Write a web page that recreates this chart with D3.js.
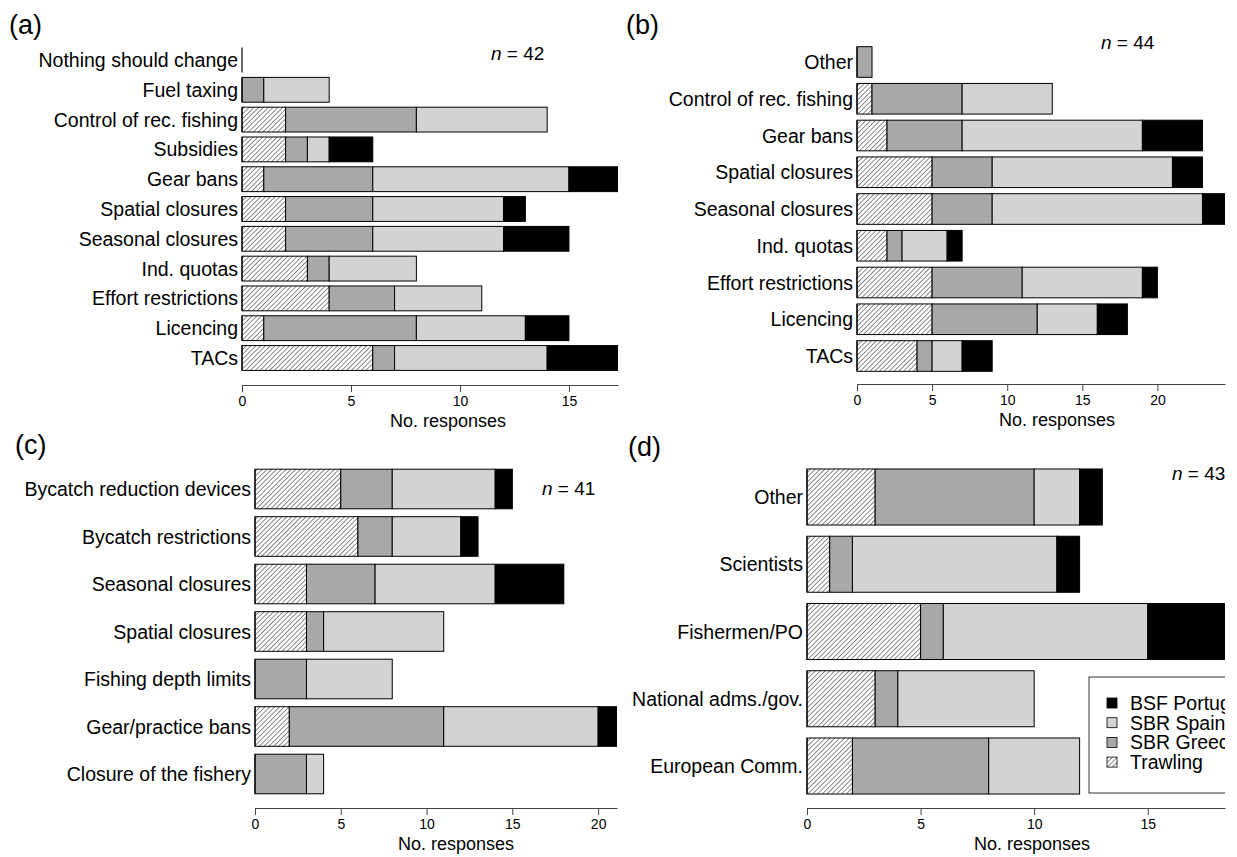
<!DOCTYPE html>
<html>
<head>
<meta charset="utf-8">
<script src="https://cdn.jsdelivr.net/npm/d3@7"></script>
<style>
  body { margin: 0; background: #fff; }
  svg { display: block; font-family: "Liberation Sans", Arial, sans-serif; }
</style>
</head>
<body>
<svg width="1237" height="857"></svg>
<script>
// series order in each bar: Trawling, SBR Greece, SBR Spain, BSF Portugal
var keys = ["Trawling", "SBR Greece", "SBR Spain", "BSF Portugal"];

// (a)
var aCats = ["Nothing should change", "Fuel taxing", "Control of rec. fishing", "Subsidies", "Gear bans",
  "Spatial closures", "Seasonal closures", "Ind. quotas", "Effort restrictions", "Licencing", "TACs"];
var aTrawl    = [0, 0, 2, 2, 1, 2, 2, 3, 4, 1, 6];
var aGreece   = [0, 1, 6, 1, 5, 4, 4, 1, 3, 7, 1];
var aSpain    = [0, 3, 6, 1, 9, 6, 6, 4, 4, 5, 7];
var aPortugal = [0, 0, 0, 2, 3, 1, 3, 0, 0, 2, 4];
var aTicks = [0, 5, 10, 15];

// (b)
var bCats = ["Other", "Control of rec. fishing", "Gear bans", "Spatial closures", "Seasonal closures",
  "Ind. quotas", "Effort restrictions", "Licencing", "TACs"];
var bTrawl    = [0, 1, 2, 5, 5, 2, 5, 5, 4];
var bGreece   = [1, 6, 5, 4, 4, 1, 6, 7, 1];
var bSpain    = [0, 6, 12, 12, 14, 3, 8, 4, 2];
var bPortugal = [0, 0, 4, 2, 2, 1, 1, 2, 2];
var bTicks = [0, 5, 10, 15, 20];

// (c)
var cCats = ["Bycatch reduction devices", "Bycatch restrictions", "Seasonal closures", "Spatial closures",
  "Fishing depth limits", "Gear/practice bans", "Closure of the fishery"];
var cTrawl    = [5, 6, 3, 3, 0, 2, 0];
var cGreece   = [3, 2, 4, 1, 3, 9, 3];
var cSpain    = [6, 4, 7, 7, 5, 9, 1];
var cPortugal = [1, 1, 4, 0, 0, 2, 0];
var cTicks = [0, 5, 10, 15, 20];

// (d)
var dCats = ["Other", "Scientists", "Fishermen/PO", "National adms./gov.", "European Comm."];
var dTrawl    = [3, 1, 5, 3, 2];
var dGreece   = [7, 1, 1, 1, 6];
var dSpain    = [2, 9, 9, 6, 4];
var dPortugal = [1, 1, 4, 0, 0];
var dTicks = [0, 5, 10, 15];

var nLabels = ["42", "44", "41", "43"];
var legendOrder = ["BSF Portugal", "SBR Spain", "SBR Greece", "Trawling"];

var svg = d3.select("svg");
var fills = {"Trawling": "url(#hatch)", "SBR Greece": "#a8a8a8", "SBR Spain": "#d3d3d3", "BSF Portugal": "#000"};

var defs = svg.append("defs");
defs.append("pattern")
    .attr("id", "hatch")
    .attr("patternUnits", "userSpaceOnUse")
    .attr("width", 3.4)
    .attr("height", 3.4)
    .attr("patternTransform", "rotate(45)")
  .call(function(p) {
    p.append("rect").attr("width", 3.4).attr("height", 3.4).attr("fill", "#fff");
    p.append("line").attr("x1", 0).attr("y1", 0).attr("x2", 0).attr("y2", 3.4)
      .attr("stroke", "#000").attr("stroke-width", 0.9);
  });

function drawPanel(id, cats, tr, gr, sp, pt, ticks, lay) {
  var rows = cats.map(function(c, i) {
    return {cat: c, "Trawling": tr[i], "SBR Greece": gr[i], "SBR Spain": sp[i], "BSF Portugal": pt[i]};
  });
  var step = (lay.yLast - lay.yFirst) / (cats.length - 1);
  var x = d3.scaleLinear().domain([0, lay.dmax]).range([lay.x0, lay.x1]);
  var y = d3.scaleBand().domain(cats)
    .range([lay.yFirst - step / 2, lay.yLast + step / 2])
    .paddingInner(1 / 6).paddingOuter(1 / 12);

  defs.append("clipPath").attr("id", "clip" + id)
    .append("rect")
    .attr("x", lay.x0 - 2).attr("y", lay.yFirst - step)
    .attr("width", lay.x1 - lay.x0 + 2).attr("height", lay.yLast - lay.yFirst + 2 * step);

  var g = svg.append("g");
  var bars = g.append("g").attr("clip-path", "url(#clip" + id + ")");

  var series = d3.stack().keys(keys)(rows);
  bars.selectAll("g.layer")
    .data(series)
    .enter().append("g")
    .attr("class", "layer")
    .attr("fill", function(s) { return fills[s.key]; })
    .selectAll("rect")
    .data(function(s) { return s.filter(function(d) { return d[1] > d[0]; }); })
    .enter().append("rect")
    .attr("x", function(d) { return x(d[0]); })
    .attr("y", function(d) { return y(d.data.cat); })
    .attr("width", function(d) { return x(d[1]) - x(d[0]); })
    .attr("height", y.bandwidth())
    .attr("stroke", "#000")
    .attr("stroke-width", 1);

  // zero-width bars still show their left edge
  bars.selectAll("line.zero")
    .data(rows)
    .enter().append("line")
    .attr("x1", x(0)).attr("x2", x(0))
    .attr("y1", function(d) { return y(d.cat); })
    .attr("y2", function(d) { return y(d.cat) + y.bandwidth(); })
    .attr("stroke", "#000").attr("stroke-width", 1.2);

  g.selectAll("text.cat")
    .data(cats)
    .enter().append("text")
    .attr("x", lay.x0 - 4)
    .attr("y", function(d) { return y(d) + y.bandwidth() / 2; })
    .attr("text-anchor", "end")
    .attr("dominant-baseline", "central")
    .attr("font-size", 19.5)
    .text(function(d) { return d; });

  var axis = g.append("g")
    .attr("transform", "translate(0," + lay.axisY + ")")
    .call(d3.axisBottom(x).tickValues(ticks).tickSize(7).tickSizeOuter(0).tickPadding(4));
  axis.select(".domain").attr("stroke", "#444");
  axis.selectAll(".tick line").attr("stroke", "#444");
  axis.selectAll(".tick text").attr("font-size", 14).attr("fill", "#000")
    .attr("font-family", "Liberation Sans, Arial, sans-serif");

  g.append("text")
    .attr("x", lay.xlabX)
    .attr("y", lay.axisY + 36)
    .attr("text-anchor", "middle")
    .attr("dominant-baseline", "central")
    .attr("font-size", 18)
    .text("No. responses");

  g.append("text")
    .attr("x", lay.letterX)
    .attr("y", lay.letterY)
    .attr("dominant-baseline", "central")
    .attr("font-size", 27)
    .text("(" + id + ")");

  var nt = g.append("text")
    .attr("x", lay.nX)
    .attr("y", lay.nY)
    .attr("dominant-baseline", "central")
    .attr("font-size", 19);
  nt.append("tspan").attr("font-style", "italic").text("n");
  nt.append("tspan").text(" = " + lay.n);

  return {x: x, g: g};
}

drawPanel("a", aCats, aTrawl, aGreece, aSpain, aPortugal, aTicks,
  {x0: 242, x1: 618, dmax: 17.25, yFirst: 60, yLast: 358, axisY: 385, xlabX: 448,
   letterX: 9, letterY: 25, nX: 491, nY: 53, n: nLabels[0]});

drawPanel("b", bCats, bTrawl, bGreece, bSpain, bPortugal, bTicks,
  {x0: 857, x1: 1225, dmax: 24.5, yFirst: 62, yLast: 356, axisY: 384, xlabX: 1057,
   letterX: 626, letterY: 25, nX: 1101, nY: 42, n: nLabels[1]});

drawPanel("c", cCats, cTrawl, cGreece, cSpain, cPortugal, cTicks,
  {x0: 255, x1: 617, dmax: 21.1, yFirst: 489, yLast: 774, axisY: 808, xlabX: 456,
   letterX: 15, letterY: 445, nX: 542, nY: 488, n: nLabels[2]});

var pd = drawPanel("d", dCats, dTrawl, dGreece, dSpain, dPortugal, dTicks,
  {x0: 807, x1: 1225, dmax: 18.4, yFirst: 497, yLast: 766, axisY: 808, xlabX: 1032,
   letterX: 628, letterY: 447, nX: 1172, nY: 473, n: nLabels[3]});

// legend in (d), cut at the right edge like the panel
defs.append("clipPath").attr("id", "clipLegend")
  .append("rect").attr("x", 0).attr("y", 0).attr("width", 1225).attr("height", 857);
var legend = svg.append("g").attr("clip-path", "url(#clipLegend)");
legend.append("rect")
  .attr("x", 1089).attr("y", 677).attr("width", 170).attr("height", 116)
  .attr("fill", "#fff").attr("stroke", "#333").attr("stroke-width", 1);
var li = legend.selectAll("g.item")
  .data(legendOrder)
  .enter().append("g")
  .attr("class", "item")
  .attr("transform", function(d, i) { return "translate(1107," + (703 + i * 19.7) + ")"; });
li.append("rect")
  .attr("x", 0).attr("y", -5).attr("width", 10).attr("height", 10)
  .attr("fill", function(d) { return fills[d]; })
  .attr("stroke", "#000").attr("stroke-width", 0.8);
li.append("text")
  .attr("x", 23).attr("y", 0)
  .attr("dominant-baseline", "central")
  .attr("font-size", 19.5)
  .text(function(d) { return d; });

// the n label in (d) is cut too
pd.g.selectAll("text").filter(function() { return d3.select(this).text().indexOf("n =") === 0; })
  .attr("clip-path", "url(#clipLegend)");
</script>
</body>
</html>
